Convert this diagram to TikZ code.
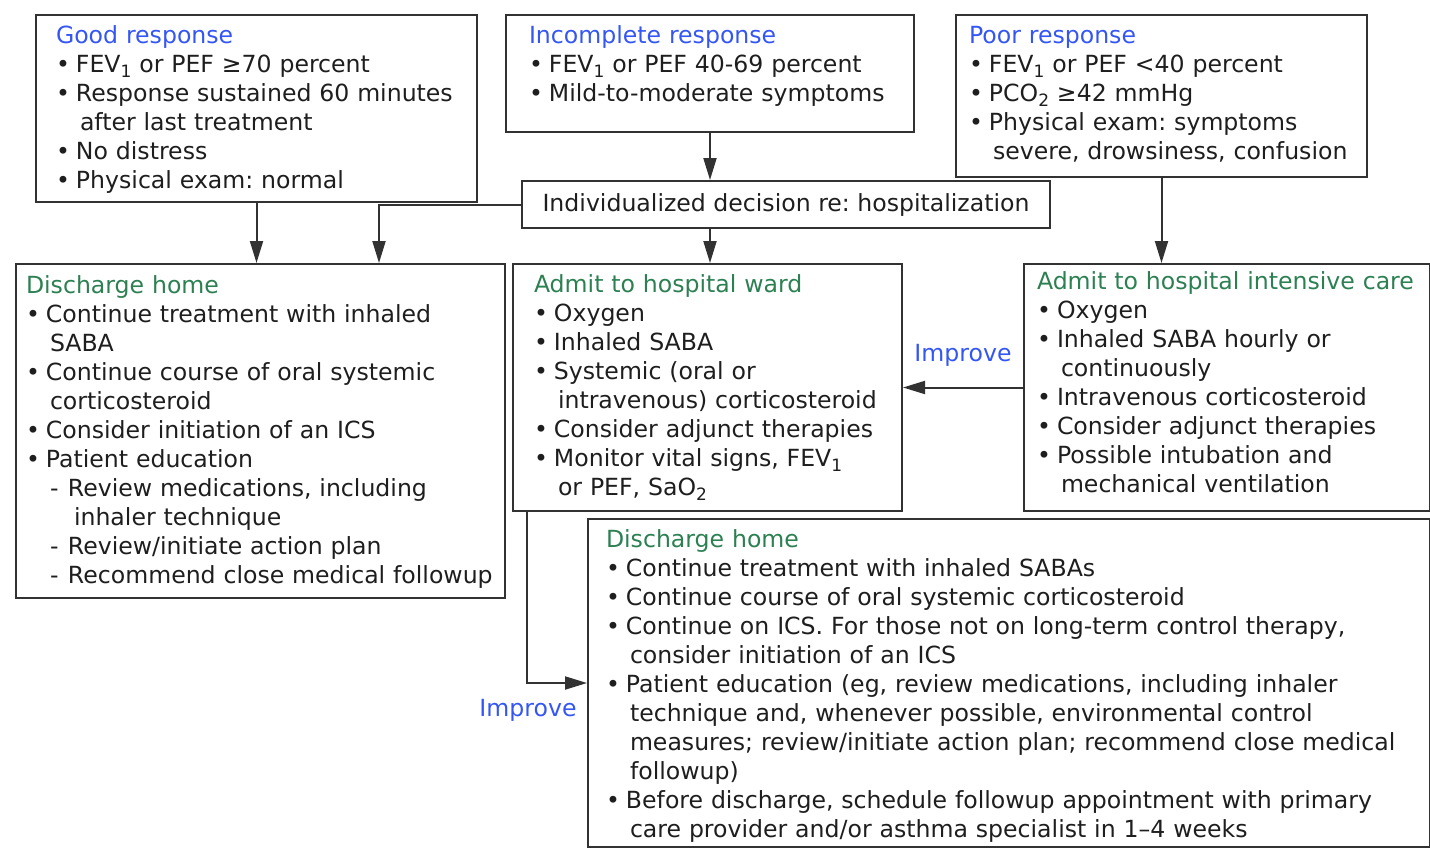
\documentclass[tikz,border=0pt]{standalone}
\usepackage{fontspec}
\setmainfont{DejaVu Sans}
\usetikzlibrary{arrows.meta}
\frenchspacing

\definecolor{headBlue}{RGB}{52,86,245}
\definecolor{headGreen}{RGB}{44,128,82}
\definecolor{lineGray}{RGB}{50,50,50}
\definecolor{textDark}{RGB}{30,30,30}

\newcommand{\itm}{\makebox[10pt][l]{\textbullet}}
\newcommand{\ind}{\hspace*{12pt}}
\newcommand{\dsh}{\hspace*{12pt}\makebox[9pt][l]{-}}
\newcommand{\dind}{\hspace*{24pt}}
\newcommand{\lowr}[1]{\raisebox{-2.5pt}{\fontsize{8.5pt}{8.5pt}\selectfont #1}}

\begin{document}
\begin{tikzpicture}
[x=0.5pt,y=-0.5pt,
  boxDecorate/.style={draw=lineGray,line width=1pt,anchor=north west,align=left,
    inner ysep=0pt,text=textDark,font=\fontsize{11.8pt}{14.5pt}\selectfont\frenchspacing},%
  arrowDecorate/.style={-{Triangle[length=11pt,width=6.5pt]},draw=lineGray,line width=1pt},%
  labelDecorate/.style={text=headBlue,font=\fontsize{11.8pt}{14.5pt}\selectfont}]
\useasboundingbox (0,0) rectangle (1430,847);
%% response boxes
\node (good) at (35,14) [boxDecorate,text width=200.5pt,inner xsep=10pt,
  text height=14pt,text depth=79.5pt]
  {\textcolor{headBlue}{Good response}\\
   \itm FEV\lowr{1} or PEF ≥70 percent\\
   \itm Response sustained 60 minutes\\
   \ind after last treatment\\
   \itm No distress\\
   \itm Physical exam: normal};
\node (incomplete) at (505,14) [boxDecorate,text width=181pt,inner xsep=11.5pt,
  text height=14pt,text depth=44.5pt]
  {\textcolor{headBlue}{Incomplete response}\\
   \itm FEV\lowr{1} or PEF 40-69 percent\\
   \itm Mild-to-moderate symptoms};
\node (poor) at (955,14) [boxDecorate,text width=192.5pt,inner xsep=6.5pt,
  text height=14pt,text depth=67pt]
  {\textcolor{headBlue}{Poor response}\\
   \itm FEV\lowr{1} or PEF <40 percent\\
   \itm PCO\lowr{2} ≥42 mmHg\\
   \itm Physical exam: symptoms\\
   \ind severe, drowsiness, confusion};
\node (decision) at (521,180) [boxDecorate,align=center,minimum width=264pt,
  minimum height=23.5pt,inner xsep=0pt]
  {Individualized decision re: hospitalization};
%% outcome boxes
\node (dhome) at (15,263) [boxDecorate,text width=234.5pt,inner xsep=5pt,
  text height=14.5pt,text depth=152.5pt]
  {\textcolor{headGreen}{Discharge home}\\
   \itm Continue treatment with inhaled\\
   \ind SABA\\
   \itm Continue course of oral systemic\\
   \ind corticosteroid\\
   \itm Consider initiation of an ICS\\
   \itm Patient education\\
   \dsh Review medications, including\\
   \dind inhaler technique\\
   \dsh Review/initiate action plan\\
   \dsh Recommend close medical followup};
\node (ward) at (512,263) [boxDecorate,text width=173.5pt,inner xsep=10.5pt,
  text height=14pt,text depth=109.5pt]
  {\textcolor{headGreen}{Admit to hospital ward}\\
   \itm Oxygen\\
   \itm Inhaled SABA\\
   \itm Systemic (oral or\\
   \ind intravenous) corticosteroid\\
   \itm Consider adjunct therapies\\
   \itm Monitor vital signs, FEV\lowr{1}\\
   \ind or PEF, SaO\lowr{2}};
\node (icu) at (1023,263) [boxDecorate,text width=190pt,inner xsep=6.5pt,
  text height=12.5pt,text depth=111pt]
  {\textcolor{headGreen}{Admit to hospital intensive care}\\
   \itm Oxygen\\
   \itm Inhaled SABA hourly or\\
   \ind continuously\\
   \itm Intravenous corticosteroid\\
   \itm Consider adjunct therapies\\
   \itm Possible intubation and\\
   \ind mechanical ventilation};
\node (dhomeb) at (587,518) [boxDecorate,text width=403pt,inner xsep=9pt,
  text height=14pt,text depth=150pt]
  {\textcolor{headGreen}{Discharge home}\\
   \itm Continue treatment with inhaled SABAs\\
   \itm Continue course of oral systemic corticosteroid\\
   \itm Continue on ICS. For those not on long-term control therapy,\\
   \ind consider initiation of an ICS\\
   \itm Patient education (eg, review medications, including inhaler\\
   \ind technique and, whenever possible, environmental control\\
   \ind measures; review/initiate action plan; recommend close medical\\
   \ind followup)\\
   \itm Before discharge, schedule followup appointment with primary\\
   \ind care provider and/or asthma specialist in 1–4 weeks};
%% bend points
\coordinate (split) at (379,263);
\coordinate (wardout) at (527,510);
\coordinate (bend) at (587,683);
%% edges or lines
\path
\foreach \startnode/\endnode in {good/dhome, incomplete/decision, poor/icu}
{
  (\startnode.south) edge[arrowDecorate] (\startnode.south |- \endnode.north)
};
\draw[arrowDecorate] (incomplete.south |- decision.south) -- (incomplete.south |- ward.north);
\draw[arrowDecorate] (decision.west) -| (split);
\draw[arrowDecorate] (icu.west) -- node[labelDecorate,midway,yshift=16pt] {Improve} (icu.west -| ward.east);
\draw[arrowDecorate] (wardout) |- (bend);
\node (improve) at (528,710) [labelDecorate] {Improve};
\end{tikzpicture}
\end{document}
